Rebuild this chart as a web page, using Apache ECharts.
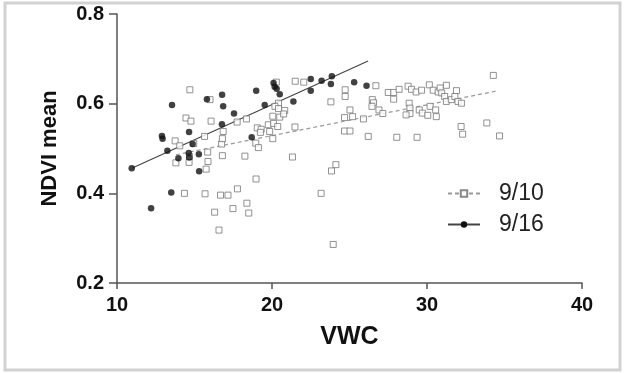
<!DOCTYPE html>
<html>
<head>
<meta charset="utf-8">
<script src="https://cdn.jsdelivr.net/npm/echarts@6/dist/echarts.min.js"></script>
<style>html,body{margin:0;padding:0;background:#fff}#c{width:625px;height:373px}</style>
</head>
<body>
<div id="c"></div>
<script>
const seriesNames = ['9/10', '9/16'];
const xTicks = [10, 20, 30, 40];
const yTicks = [0.2, 0.4, 0.6, 0.8];

// 9/10 : open squares
const s910 = [
  [14.7,0.631],[16.0,0.609],[14.45,0.568],[14.77,0.561],[16.07,0.561],[13.75,0.517],[14.05,0.506],
  [14.95,0.511],[15.65,0.527],[15.85,0.492],[15.87,0.471],[15.75,0.454],[13.8,0.468],[14.65,0.469],
  [14.68,0.482],[16.75,0.510],[16.8,0.522],[16.85,0.538],[16.8,0.484],[17.75,0.559],[18.35,0.566],
  [18.25,0.483],[18.97,0.432],[14.35,0.400],[15.68,0.399],[16.68,0.396],[17.16,0.396],[17.77,0.410],
  [16.3,0.358],[17.48,0.366],[18.38,0.378],[18.5,0.356],[16.58,0.318],
  [18.95,0.512],[19.12,0.502],[19.05,0.546],[19.3,0.543],[19.25,0.536],[19.85,0.538],[19.76,0.553],
  [20.1,0.556],[20.05,0.572],[20.5,0.570],[20.05,0.522],[20.37,0.549],[20.42,0.601],[20.19,0.594],
  [20.42,0.589],[20.82,0.585],[20.75,0.577],[20.28,0.648],[21.5,0.650],[22.05,0.648],[21.48,0.548],
  [21.32,0.481],
  [23.8,0.604],[24.12,0.464],[23.84,0.450],[23.17,0.400],[23.95,0.286],[24.72,0.631],[24.72,0.616],
  [25.03,0.586],[24.68,0.569],[25.2,0.571],[24.68,0.539],[25.03,0.539],[25.9,0.566],[26.21,0.527],
  [26.7,0.640],[26.47,0.609],[26.55,0.602],[26.45,0.594],[26.9,0.586],[27.15,0.578],
  [27.5,0.625],[27.85,0.625],[28.2,0.632],[27.85,0.610],[28.05,0.525],[29.36,0.525],[28.78,0.639],
  [29.0,0.632],[29.3,0.626],[29.65,0.630],[28.85,0.601],[28.9,0.590],[28.9,0.578],[29.5,0.586],
  [29.7,0.579],[28.65,0.575],[30.15,0.642],[30.4,0.630],[30.72,0.626],[30.2,0.594],[30.56,0.586],
  [30.05,0.574],[30.6,0.571],[31.25,0.641],[31.9,0.629],[30.85,0.635],[30.95,0.624],[31.14,0.616],
  [31.25,0.605],[31.57,0.609],[31.8,0.616],[32.0,0.605],[32.22,0.601],[32.2,0.549],[32.3,0.532],
  [33.86,0.557],[34.68,0.528],[34.28,0.663]
];

// 9/16 : filled dots
const s916 = [
  [10.95,0.456],[12.2,0.367],[12.9,0.528],[12.94,0.522],[13.25,0.495],[13.55,0.597],[13.5,0.402],
  [13.96,0.478],[14.65,0.537],[14.63,0.490],[14.66,0.480],[14.88,0.510],[15.28,0.487],[15.3,0.449],
  [15.8,0.610],[16.78,0.620],[16.85,0.594],[16.77,0.554],[17.55,0.578],[18.69,0.525],[18.98,0.629],
  [19.53,0.597],[20.1,0.646],[20.17,0.638],[20.3,0.633],[20.5,0.621],[21.38,0.605],[22.5,0.655],
  [22.5,0.629],[23.2,0.651],[23.86,0.661],[23.8,0.644],[25.3,0.648],[26.1,0.640]
];

// fitted lines (end points)
const fit910 = [[13.8,0.486],[34.6,0.629]];
const fit916 = [[10.95,0.456],[26.2,0.695]];

const FONT = 'Liberation Sans, Arial, sans-serif';
const chart = echarts.init(document.getElementById('c'));
chart.setOption({
  animation: false,
  backgroundColor: '#fff',
  graphic: [{
    type: 'rect', silent: true,
    shape: {x: 5, y: 3, width: 615, height: 367},
    style: {fill: 'none', stroke: '#d2d2d2', lineWidth: 3}
  }],
  grid: {left: 117, right: 43, top: 14, bottom: 90},
  legend: {
    data: seriesNames,
    orient: 'vertical',
    left: 442, top: 177,
    itemWidth: 32, itemHeight: 8, itemGap: 8,
    textStyle: {fontFamily: FONT, fontSize: 23, color: '#222', padding: [0, 0, 0, 14]}
  },
  xAxis: {
    type: 'value', min: xTicks[0], max: xTicks[xTicks.length - 1], interval: 10,
    name: 'VWC', nameLocation: 'middle', nameGap: 42,
    nameTextStyle: {fontFamily: FONT, fontSize: 25, fontWeight: 'bold', color: '#111'},
    axisLine: {show: true, lineStyle: {color: '#555', width: 1.5}},
    axisTick: {show: true, length: 6, lineStyle: {color: '#555', width: 1.5}},
    axisLabel: {fontFamily: FONT, fontSize: 20, fontWeight: 'bold', color: '#111', margin: 12},
    splitLine: {show: false}
  },
  yAxis: {
    type: 'value', min: yTicks[0], max: yTicks[yTicks.length - 1], interval: 0.2,
    name: 'NDVI mean', nameLocation: 'middle', nameGap: 56,
    nameTextStyle: {fontFamily: FONT, fontSize: 22, fontWeight: 'bold', color: '#111'},
    axisLine: {show: true, lineStyle: {color: '#555', width: 1.5}},
    axisTick: {show: true, length: 8, lineStyle: {color: '#555', width: 1.5}},
    axisLabel: {fontFamily: FONT, fontSize: 20, fontWeight: 'bold', color: '#111', margin: 13,
      formatter: v => v.toFixed(1)},
    splitLine: {show: false}
  },
  series: [
    {name: seriesNames[0], type: 'line', data: fit910, showSymbol: false, symbol: 'emptyRect', symbolSize: 6,
      itemStyle: {color: '#888'}, lineStyle: {color: '#999', width: 1.2, type: [4, 3]}, z: 1},
    {name: seriesNames[1], type: 'line', data: fit916, showSymbol: false, symbol: 'circle', symbolSize: 6,
      itemStyle: {color: '#111'}, lineStyle: {color: '#444', width: 1.2}, z: 1},
    {name: seriesNames[0], type: 'scatter', data: s910, symbol: 'rect', symbolSize: 6,
      itemStyle: {color: '#fff', borderColor: '#777', borderWidth: 1}, z: 2},
    {name: seriesNames[1], type: 'scatter', data: s916, symbol: 'circle', symbolSize: 6.5,
      itemStyle: {color: '#111'}, z: 3}
  ]
});
</script>
</body>
</html>
